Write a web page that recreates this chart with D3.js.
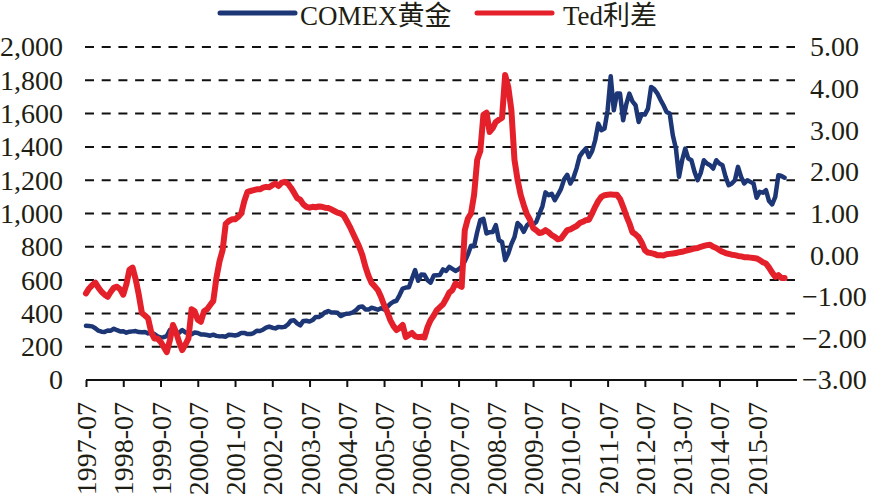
<!DOCTYPE html>
<html>
<head>
<meta charset="utf-8">
<script src="https://cdn.jsdelivr.net/npm/d3@7"></script>
<style>
  html, body { margin: 0; padding: 0; background: #fff; }
  svg { display: block; }
  text { font-family: "Liberation Serif", "Noto Sans CJK SC", serif; fill: #1e1e14; }
</style>
</head>
<body>
<svg id="chart" width="873" height="496"></svg>
<script>
// ---- data (monthly, 1997-07 .. 2016-04) ----
const tickLabels = ["1997-07","1998-07","1999-07","2000-07","2001-07","2002-07","2003-07","2004-07","2005-07","2006-07","2007-07","2008-07","2009-07","2010-07","2011-07","2012-07","2013-07","2014-07","2015-07"];
const seriesNames = ["COMEX黄金", "Ted利差"];

const goldValues = [
  326, 324, 322, 311, 296, 290, 289, 297, 296, 308, 299, 292,
  293, 284, 290, 292, 294, 288, 287, 288, 280, 282, 277, 262,
  256, 257, 264, 300, 293, 283, 284, 300, 286, 280, 275, 285,
  282, 274, 273, 270, 266, 272, 265, 262, 263, 260, 272, 270,
  267, 272, 283, 283, 276, 276, 282, 296, 294, 302, 314, 321,
  314, 310, 319, 317, 319, 333, 356, 359, 340, 328, 355, 356,
  351, 360, 379, 379, 389, 407, 414, 405, 406, 404, 384, 392,
  398, 400, 406, 420, 439, 442, 424, 423, 434, 429, 422, 431,
  424, 438, 457, 470, 476, 510, 549, 555, 557, 610, 660, 596,
  633, 632, 599, 585, 627, 629, 631, 664, 655, 679, 667, 655,
  665, 680, 712, 754, 806, 803, 889, 960, 968, 880, 888, 889,
  930, 839, 829, 720, 760, 816, 858, 943, 924, 890, 928, 945,
  934, 949, 996, 1043, 1127, 1110, 1118, 1080, 1113, 1148, 1205, 1232,
  1180, 1215, 1271, 1343, 1370, 1391, 1340, 1374, 1440, 1540, 1500, 1510,
  1620, 1825, 1620, 1720, 1720, 1560, 1656, 1720, 1673, 1650, 1550, 1596,
  1594, 1630, 1760, 1747, 1722, 1684, 1650, 1610, 1600, 1470, 1390, 1220,
  1320, 1390, 1330, 1320, 1250, 1200, 1244, 1320, 1300, 1290, 1270, 1320,
  1300, 1290, 1220, 1170, 1180, 1200, 1280, 1220, 1180, 1200, 1190, 1180,
  1095, 1130, 1125, 1140, 1075, 1055, 1100, 1230, 1225, 1215
];

const tedValues = [
  -0.92, -0.80, -0.72, -0.66, -0.78, -0.88, -0.95, -1.00, -0.88, -0.78, -0.76, -0.82,
  -0.95, -0.70, -0.35, -0.30, -0.58, -0.95, -1.39, -1.45, -1.52, -1.85, -2.00, -2.00,
  -2.08, -2.20, -2.33, -2.05, -1.68, -1.85, -2.09, -2.28, -2.15, -2.00, -1.30, -1.35,
  -1.55, -1.60, -1.35, -1.30, -1.20, -1.10, -0.55, -0.15, 0.12, 0.75, 0.82, 0.86,
  0.86, 0.92, 1.00, 1.30, 1.52, 1.54, 1.56, 1.58, 1.58, 1.62, 1.64, 1.63,
  1.68, 1.72, 1.66, 1.74, 1.76, 1.72, 1.62, 1.50, 1.37, 1.33, 1.22, 1.16,
  1.14, 1.16, 1.15, 1.17, 1.16, 1.14, 1.13, 1.10, 1.06, 1.02, 1.00, 0.95,
  0.82, 0.68, 0.52, 0.36, 0.20, 0.00, -0.28, -0.50, -0.67, -0.75, -0.84, -1.00,
  -1.20, -1.36, -1.56, -1.70, -1.80, -1.75, -1.68, -1.97, -1.92, -1.87, -1.95, -1.97,
  -1.96, -1.98, -1.73, -1.56, -1.45, -1.32, -1.25, -1.18, -1.05, -0.90, -0.84, -0.68,
  -0.72, -0.76, 0.60, 0.88, 1.00, 1.45, 2.29, 2.50, 3.37, 3.42, 2.96, 3.05,
  3.20, 3.25, 3.30, 4.33, 4.04, 3.49, 2.29, 1.81, 1.45, 1.20, 0.98, 0.85,
  0.65, 0.60, 0.53, 0.55, 0.60, 0.55, 0.48, 0.44, 0.38, 0.40, 0.50, 0.60,
  0.62, 0.66, 0.70, 0.77, 0.80, 0.84, 0.85, 1.00, 1.16, 1.30, 1.40, 1.44,
  1.45, 1.46, 1.45, 1.45, 1.35, 1.16, 0.95, 0.77, 0.55, 0.50, 0.43, 0.30,
  0.12, 0.06, 0.05, 0.03, 0.00, 0.00, -0.01, 0.02, 0.03, 0.04, 0.05, 0.07,
  0.08, 0.10, 0.12, 0.14, 0.16, 0.17, 0.20, 0.22, 0.24, 0.25, 0.20, 0.17,
  0.12, 0.08, 0.05, 0.03, 0.01, 0.00, -0.02, -0.03, -0.05, -0.05, -0.06, -0.07,
  -0.08, -0.12, -0.17, -0.20, -0.30, -0.42, -0.52, -0.48, -0.55, -0.55
];

const leftTicks = [0, 200, 400, 600, 800, 1000, 1200, 1400, 1600, 1800, 2000];
const rightTicks = [-3, -2, -1, 0, 1, 2, 3, 4, 5];

// ---- layout ----
const svg = d3.select("#chart");
const X0 = 86, X1 = 797, YTOP = 47, YBOT = 380;
const FONT = 28;

const x = d3.scaleLinear().domain([0, 229]).range([X0, X1]);
const yL = d3.scaleLinear().domain([0, 2000]).range([YBOT, YTOP]);
const yR = d3.scaleLinear().domain([-3, 5]).range([YBOT, YTOP]);

// gridlines
svg.append("g").selectAll("line")
  .data(leftTicks.filter(d => d > 0))
  .join("line")
  .attr("x1", 85).attr("x2", 795)
  .attr("y1", d => yL(d)).attr("y2", d => yL(d))
  .attr("stroke", "#111").attr("stroke-width", 2)
  .attr("stroke-dasharray", "9,7.7");

// left axis
const gL = svg.append("g").attr("transform", `translate(${X0},0)`)
  .call(d3.axisLeft(yL).tickValues(leftTicks).tickFormat(d3.format(",")).tickSize(0).tickPadding(23));
gL.select(".domain").remove();
gL.selectAll("text").style("font-size", FONT + "px").attr("font-family", null).style("fill", "#1e1e14");

// right axis
const gR = svg.append("g").attr("transform", `translate(${X1},0)`)
  .call(d3.axisRight(yR).tickValues(rightTicks).tickFormat(d3.format(".2f")).tickSize(0).tickPadding(5));
gR.select(".domain").remove();
gR.selectAll("text").style("font-size", FONT + "px").style("fill", "#1e1e14")
  .attr("x", d => d < 0 ? 5 : 13);

// x axis
const tickIdx = tickLabels.map((_, i) => i * 12);
const gX = svg.append("g").attr("transform", `translate(0,${YBOT})`)
  .call(d3.axisBottom(x).tickValues(tickIdx).tickFormat((d, i) => tickLabels[i]).tickSize(7).tickSizeOuter(0));
gX.select(".domain").attr("stroke", "#111").attr("stroke-width", 2).attr("d", `M${X0},0H${X1}`);
gX.selectAll(".tick line").attr("stroke", "#111").attr("stroke-width", 2);
gX.selectAll("text")
  .style("font-size", FONT + "px").style("fill", "#1e1e14")
  .attr("transform", "rotate(-90)")
  .attr("text-anchor", "end")
  .attr("x", -22).attr("y", 0).attr("dy", "0.34em");

// lines
const lineGold = d3.line().x((d, i) => x(i)).y(d => yL(d)).curve(d3.curveLinear);
const lineTed = d3.line().x((d, i) => x(i)).y(d => yR(d)).curve(d3.curveLinear);

const BLUE = "#1c3676", RED = "#e4202b";
svg.append("path").datum(goldValues).attr("d", lineGold)
  .attr("fill", "none").attr("stroke", BLUE).attr("stroke-width", 4.5)
  .attr("stroke-linejoin", "round").attr("stroke-linecap", "round");
svg.append("path").datum(tedValues).attr("d", lineTed)
  .attr("fill", "none").attr("stroke", RED).attr("stroke-width", 6)
  .attr("stroke-linejoin", "round").attr("stroke-linecap", "round");

// legend
const legend = [
  { name: seriesNames[0], color: BLUE, x1: 220, x2: 295, tx: 300 },
  { name: seriesNames[1], color: RED, x1: 477, x2: 552, tx: 563 }
];
const lg = svg.append("g");
legend.forEach(l => {
  lg.append("line").attr("x1", l.x1).attr("x2", l.x2).attr("y1", 13).attr("y2", 13)
    .attr("stroke", l.color).attr("stroke-width", 5).attr("stroke-linecap", "round");
  lg.append("text").attr("x", l.tx).attr("y", 25).style("font-size", "27px").text(l.name);
});
</script>
</body>
</html>
